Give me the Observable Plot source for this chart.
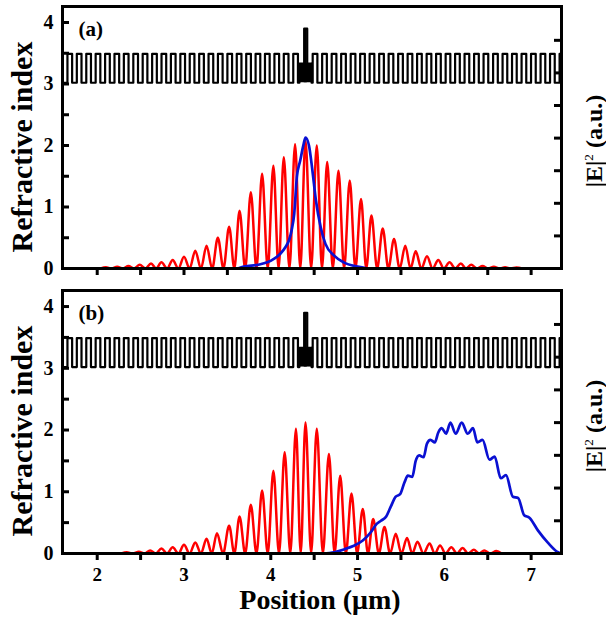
<!DOCTYPE html>
<html>
<head>
<meta charset="utf-8">
<script src="https://cdn.jsdelivr.net/npm/d3@7"></script>
<script src="https://cdn.jsdelivr.net/npm/@observablehq/plot@0.6"></script>
<style>
  html, body { margin: 0; padding: 0; background: #fff; }
  #wrap { position: relative; width: 606px; height: 617px; background: #fff; overflow: hidden;
          font-family: "Liberation Serif", "Times New Roman", serif; font-weight: bold; color: #000; }
  .panel { position: absolute; left: 0; }
  .lab { position: absolute; white-space: nowrap; line-height: 1; }
  .rot { transform: translate(-50%, -50%) rotate(-90deg); }
  sup { font-weight: normal; font-size: 0.55em; vertical-align: 0.75em; }
</style>
</head>
<body>
<div id="wrap">
  <div id="pa" class="panel" style="top:0px"></div>
  <div id="pb" class="panel" style="top:284px"></div>
  <div class="lab rot" style="left:22px; top:147px; font-size:30px;">Refractive index</div>
  <div class="lab rot" style="left:22px; top:431px; font-size:30px;">Refractive index</div>
  <div class="lab rot" style="left:594px; top:141px; font-size:24px;">|E|<sup>2</sup> (a.u.)</div>
  <div class="lab rot" style="left:594px; top:426px; font-size:24px;">|E|<sup>2</sup> (a.u.)</div>
  <div class="lab" style="left:320px; top:590px; font-size:28px; line-height:0.7; transform: translateX(-50%);">Position (μm)</div>
</div>
<script>
// ---------- axes ----------
const xDomain = [1.6, 7.35];
const yDomain = [0, 4.26];
const xMajor = [2, 3, 4, 5, 6, 7];
const xMinor = [2.5, 3.5, 4.5, 5.5, 6.5];
const yMajor = [0, 1, 2, 3, 4];
const yMinor = [0.5, 1.5, 2.5, 3.5];
const eTicks = [0, 1, 2, 3, 4, 5, 6, 7];   // right |E|^2 axis ticks (no labels)
const eUnit = 0.53;                          // one |E|^2 unit in refractive-index units
const panelTags = ["(a)", "(b)"];

// ---------- refractive index structure ----------
const nLow = 3.02;
const nHigh = 3.49;
const layerHalfWidth = 0.027;
const highCentersLeft = [1.576, 1.684, 1.792, 1.901, 2.009, 2.118, 2.226, 2.334, 2.443, 2.551,
  2.660, 2.768, 2.876, 2.985, 3.093, 3.202, 3.310, 3.418, 3.527, 3.635, 3.744, 3.852, 3.960,
  4.069, 4.177, 4.286];
const highCentersRight = [4.510, 4.619, 4.729, 4.838, 4.948, 5.057, 5.166, 5.276, 5.385, 5.495,
  5.604, 5.713, 5.823, 5.932, 6.042, 6.151, 6.260, 6.370, 6.479, 6.589, 6.698, 6.807, 6.917,
  7.026, 7.136, 7.245, 7.355];
const defectBase = {x1: 4.33, x2: 4.47, n: 3.33};
const defectBar = {x1: 4.385, x2: 4.42, n: 3.90};

// ---------- |E|^2 profiles (in left-axis units) ----------
const redA = [[2.04,0],[2.10,0.02],[2.165,0],[2.23,0.03],[2.295,0],[2.36,0.04],[2.425,0],[2.49,0.06],
  [2.555,0],[2.62,0.08],[2.68,0],[2.74,0.10],[2.805,0],[2.87,0.14],[2.935,0],[3.00,0.19],[3.065,0],
  [3.13,0.29],[3.195,0],[3.26,0.37],[3.325,0],[3.39,0.50],[3.455,0],[3.52,0.68],[3.58,0],[3.64,0.94],
  [3.705,0],[3.77,1.24],[3.835,0],[3.90,1.54],[3.965,0],[4.03,1.67],[4.09,0],[4.15,1.81],[4.215,0],
  [4.28,2.02],[4.34,0],[4.40,2.08],[4.465,0],[4.53,2.00],[4.59,0],[4.65,1.73],[4.715,0],[4.78,1.59],
  [4.845,0],[4.91,1.43],[4.975,0],[5.04,1.13],[5.10,0],[5.16,0.86],[5.225,0],[5.29,0.65],[5.355,0],
  [5.42,0.48],[5.485,0],[5.55,0.37],[5.61,0],[5.67,0.28],[5.735,0],[5.80,0.20],[5.865,0],[5.93,0.14],
  [5.995,0],[6.06,0.10],[6.125,0],[6.19,0.08],[6.25,0],[6.31,0.06],[6.375,0],[6.44,0.04],[6.505,0],
  [6.57,0.03],[6.635,0],[6.70,0.02],[6.765,0],[6.83,0.015],[6.90,0]];
const blueA = [[3.62,0],[3.69,0.03],[3.85,0.06],[3.96,0.10],[4.04,0.16],[4.11,0.24],[4.17,0.35],
  [4.21,0.46],[4.24,0.62],[4.27,0.89],[4.30,1.48],[4.34,1.76],[4.38,2.03],[4.40,2.13],[4.44,2.00],
  [4.48,1.59],[4.52,1.11],[4.575,0.67],[4.63,0.40],[4.73,0.21],[4.84,0.10],[5.00,0.03],[5.12,0]];
const redB = [[2.28,0],[2.34,0.02],[2.41,0],[2.48,0.03],[2.545,0],[2.61,0.05],[2.675,0],[2.74,0.08],
  [2.805,0],[2.87,0.10],[2.935,0],[3.00,0.14],[3.065,0],[3.13,0.18],[3.195,0],[3.26,0.24],[3.32,0],
  [3.38,0.33],[3.45,0],[3.52,0.45],[3.58,0],[3.64,0.60],[3.705,0],[3.77,0.79],[3.835,0],[3.90,1.02],
  [3.965,0],[4.03,1.34],[4.095,0],[4.16,1.64],[4.225,0],[4.29,2.02],[4.345,0],[4.40,2.12],[4.465,0],
  [4.53,2.02],[4.60,0],[4.67,1.61],[4.735,0],[4.80,1.26],[4.865,0],[4.93,0.97],[4.995,0],[5.06,0.72],
  [5.12,0],[5.18,0.56],[5.245,0],[5.31,0.43],[5.375,0],[5.44,0.32],[5.505,0],[5.57,0.25],[5.63,0],
  [5.69,0.19],[5.76,0],[5.83,0.16],[5.89,0],[5.95,0.13],[6.015,0],[6.08,0.10],[6.145,0],[6.21,0.09],
  [6.275,0],[6.34,0.06],[6.40,0],[6.46,0.05],[6.53,0],[6.60,0.04],[6.66,0]];
const blueB = [[4.60,0],[4.73,0.02],[4.85,0.07],[4.95,0.12],[5.06,0.21],[5.15,0.34],[5.22,0.48],
  [5.27,0.53],[5.33,0.60],[5.38,0.75],[5.44,0.92],[5.49,0.96],[5.54,1.15],[5.58,1.26],[5.63,1.24],
  [5.67,1.50],[5.71,1.59],[5.76,1.56],[5.80,1.78],[5.84,1.84],[5.89,1.80],[5.93,1.96],[5.97,2.03],
  [6.02,1.94],[6.07,2.12],[6.13,1.94],[6.20,2.12],[6.27,1.94],[6.33,2.03],[6.38,1.80],[6.44,1.84],
  [6.52,1.52],[6.58,1.57],[6.65,1.22],[6.71,1.27],[6.79,0.92],[6.85,0.90],[6.92,0.62],[6.98,0.58],
  [7.08,0.37],[7.19,0.18],[7.31,0.02],[7.35,0]];

// ---------- build step table for the layered structure ----------
function indexProfile() {
  const pts = [];
  const w = layerHalfWidth;
  const push = (x, n) => pts.push({x, n});
  push(1.5, nLow);
  for (const c of highCentersLeft) { push(c - w, nLow); push(c - w, nHigh); push(c + w, nHigh); push(c + w, nLow); }
  push(defectBase.x1, nLow); push(defectBase.x1, defectBase.n);
  push(defectBar.x1, defectBase.n); push(defectBar.x1, defectBar.n);
  push(defectBar.x2, defectBar.n); push(defectBar.x2, defectBase.n);
  push(defectBase.x2, defectBase.n); push(defectBase.x2, nLow);
  for (const c of highCentersRight) { push(c - w, nLow); push(c - w, nHigh); push(c + w, nHigh); push(c + w, nLow); }
  push(7.5, nLow);
  return pts;
}
const indexPts = indexProfile();

const RED = "#ff0000", BLUE = "#0a10d2";
const TICK = 7;          // tick length (px)
const FRAME_W = 606 - 62 - 45;

function panel({red, blue, tag, height, marginBottom, xLabels}) {
  const frameH = height - 6 - marginBottom;
  return Plot.plot({
    width: 606, height,
    marginLeft: 62, marginRight: 45, marginTop: 6, marginBottom,
    x: {domain: xDomain, axis: null},
    y: {domain: yDomain, axis: null},
    style: {fontFamily: '"Liberation Serif", "Times New Roman", serif', fontWeight: "bold",
            fontSize: "20px", color: "#000", background: "transparent", overflow: "visible"},
    marks: [
      Plot.rect([defectBase], {x1: "x1", x2: "x2", y1: nLow, y2: "n", fill: "#000"}),
      Plot.rect([defectBar], {x1: "x1", x2: "x2", y1: nLow, y2: "n", fill: "#000"}),
      Plot.line(indexPts, {x: "x", y: "n", stroke: "#000", strokeWidth: 2.2, strokeLinejoin: "round", clip: true}),
      Plot.line(red, {x: d => d[0], y: d => d[1], stroke: RED, strokeWidth: 2.5, curve: "monotone-x", clip: true}),
      Plot.line(blue, {x: d => d[0], y: d => d[1], stroke: BLUE, strokeWidth: 2.7, curve: "monotone-x", clip: true}),
      Plot.text([tag], {text: d => d, frameAnchor: "top-left", dx: 16, dy: 15, lineAnchor: "top",
                        textAnchor: "start", fontSize: 21, fontWeight: "bold"}),
      // left ticks (inward)
      Plot.tickY([...yMajor, ...yMinor], {y: d => d, insetRight: FRAME_W - TICK, stroke: "#000", strokeWidth: 3}),
      // right ticks (inward)
      Plot.tickY(eTicks.map(v => v * eUnit), {y: d => d, insetLeft: FRAME_W - TICK, stroke: "#000", strokeWidth: 3}),
      // bottom ticks (outward)
      Plot.tickX([...xMajor, ...xMinor], {x: d => d, insetTop: frameH, insetBottom: -TICK, stroke: "#000", strokeWidth: 3}),
      Plot.axisY(yMajor, {anchor: "left", tickSize: 0, tickPadding: 9, tickFormat: d => String(d),
                          fontSize: 20, fontWeight: "bold", label: null}),
      xLabels ? Plot.axisX(xMajor, {anchor: "bottom", tickSize: 0, tickPadding: 14, tickFormat: d => String(d),
                                    fontSize: 19, fontWeight: "bold", label: null}) : null,
      Plot.frame({stroke: "#000", strokeWidth: 3})
    ]
  });
}

document.getElementById("pa").appendChild(panel({red: redA, blue: blueA, tag: panelTags[0], height: 284, marginBottom: 16, xLabels: false}));
document.getElementById("pb").appendChild(panel({red: redB, blue: blueB, tag: panelTags[1], height: 333, marginBottom: 64, xLabels: true}));
</script>
</body>
</html>
